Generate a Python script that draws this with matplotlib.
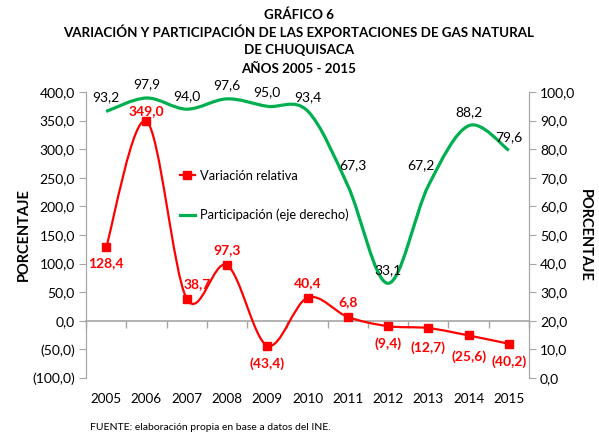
import matplotlib
matplotlib.use("Agg")
import matplotlib.pyplot as plt
from matplotlib.path import Path
from matplotlib.patches import PathPatch
from matplotlib.lines import Line2D
from matplotlib.ticker import FuncFormatter
import numpy as np

plt.rcParams['font.family'] = ['Lato', 'DejaVu Sans']

years = ['2005', '2006', '2007', '2008', '2009', '2010', '2011', '2012', '2013', '2014', '2015']
variacion = [128.4, 349.0, 38.7, 97.3, -43.4, 40.4, 6.8, -9.4, -12.7, -25.6, -40.2]
participacion = [93.2, 97.9, 94.0, 97.6, 95.0, 93.4, 67.3, 33.1, 67.2, 88.2, 79.6]

# label offsets in pixels (dx, dy), dy positive = up
var_off = [(0, -16), (0, 10), (10, 15), (0, 15), (0, -18), (0, 15), (0, 15), (0, -17), (0, -20), (0, -21), (0, -18)]
par_off = [(0, 14), (0, 14), (0, 13), (0, 14), (0, 14), (0, 14), (5, 20), (0, 13), (-7, 21), (0, 14), (0, 13)]

RED = '#FF0000'
GREEN = '#00B050'
GRAY = '#A6A6A6'


def smooth_path(x, y):
    n = len(x)
    verts = [(x[0], y[0])]
    codes = [Path.MOVETO]
    for i in range(n - 1):
        xp, yp = (x[i - 1], y[i - 1]) if i > 0 else (x[i], y[i])
        xn, yn = (x[i + 2], y[i + 2]) if i + 2 < n else (x[i + 1], y[i + 1])
        c1 = (x[i] + (x[i + 1] - xp) / 6.0, y[i] + (y[i + 1] - yp) / 6.0)
        c2 = (x[i + 1] - (xn - x[i]) / 6.0, y[i + 1] - (yn - y[i]) / 6.0)
        verts += [c1, c2, (x[i + 1], y[i + 1])]
        codes += [Path.CURVE4] * 3
    return Path(verts, codes)


def fmt(v, pos=None):
    s = f"{abs(v):.1f}".replace('.', ',')
    return f"({s})" if v < 0 else s


fig = plt.figure(figsize=(5.99, 4.34), dpi=100)
ax = fig.add_axes([86 / 599, 1 - 378 / 434, (529 - 86) / 599, (378 - 92) / 434])
ax2 = ax.twinx()

xs = np.arange(len(years))

# red series
ax.add_patch(PathPatch(smooth_path(xs, variacion), fill=False, edgecolor=RED, lw=1.6, zorder=3))
ax.plot(xs, variacion, linestyle='none', marker='s', markersize=5.5, color=RED, zorder=4)
for xi, v, (dx, dy) in zip(xs, variacion, var_off):
    ax.annotate(fmt(v), (xi, v), xytext=(dx, dy), textcoords='offset pixels',
                ha='center', va='center', color=RED, fontweight='bold', fontsize=10, zorder=5)

# green series
ax2.add_patch(PathPatch(smooth_path(xs, participacion), fill=False, edgecolor=GREEN, lw=2.3, zorder=3))
for xi, v, (dx, dy) in zip(xs, participacion, par_off):
    ax2.annotate(fmt(v), (xi, v), xytext=(dx, dy), textcoords='offset pixels',
                 ha='center', va='center', color='black', fontsize=10, zorder=5)

ax.set_xlim(-0.5, len(years) - 0.5)
ax.set_ylim(-100, 400)
ax2.set_ylim(0, 100)

ax.set_yticks(np.arange(-100, 401, 50))
ax.yaxis.set_major_formatter(FuncFormatter(fmt))
ax2.set_yticks(np.arange(0, 101, 10))
ax2.yaxis.set_major_formatter(FuncFormatter(fmt))

ax.set_xticks(xs)
ax.set_xticklabels(years)
ax.tick_params(axis='x', length=0, pad=11, labelsize=9.7)
ax.tick_params(axis='y', length=5, color=GRAY, labelsize=10, pad=3)
ax2.tick_params(axis='y', length=5, color=GRAY, labelsize=10, pad=3)

for a in (ax, ax2):
    a.spines['top'].set_visible(False)
    a.spines['bottom'].set_visible(False)
    a.spines['left'].set_color(GRAY)
    a.spines['right'].set_color(GRAY)
    a.patch.set_visible(False)

# zero line axis with category boundary ticks
sec = ax.secondary_xaxis(0.2)
sec.set_xticks(np.arange(-0.5, len(years), 1.0))
sec.set_xticklabels([])
sec.tick_params(axis='x', length=5, color=GRAY, width=1)
sec.spines['bottom'].set_color(GRAY)
sec.spines['bottom'].set_linewidth(1.2)

ax.set_ylabel('PORCENTAJE', fontweight='bold', fontsize=10.5, labelpad=1)
ax2.set_ylabel('PORCENTAJE', fontweight='bold', fontsize=10.5, rotation=270, labelpad=12)

handles = [Line2D([], [], color=RED, lw=1.6, marker='s', markersize=5.5),
           Line2D([], [], color=GREEN, lw=2.3)]
ax.legend(handles, ['Variación relativa', 'Participación (eje derecho)'],
          loc='upper left', bbox_to_anchor=(168 / 599, 1 - 158 / 434), bbox_transform=fig.transFigure,
          frameon=False, fontsize=9.3, handlelength=1.2, handletextpad=0.35, labelspacing=2.1)

titles = ['GRÁFICO 6', 'VARIACIÓN Y PARTICIPACIÓN DE LAS EXPORTACIONES DE GAS NATURAL',
          'DE CHUQUISACA', 'AÑOS 2005 - 2015']
ty = [15, 33, 50, 69]
for t, y in zip(titles, ty):
    fig.text(299 / 599, 1 - y / 434, t, ha='center', va='center', fontweight='bold', fontsize=9.6)

fig.text(90 / 599, 1 - 427 / 434, 'FUENTE: elaboración propia en base a datos del INE.',
         ha='left', va='center', fontsize=7.5)

fig.savefig('out.png', dpi=100)
